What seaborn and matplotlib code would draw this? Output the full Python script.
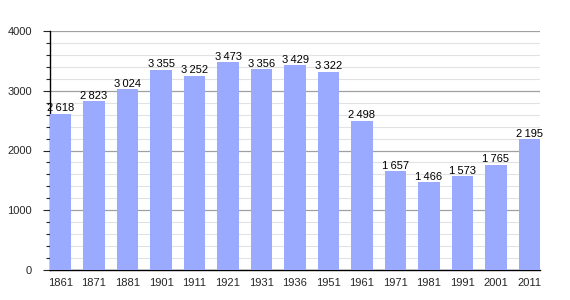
import matplotlib
matplotlib.use("Agg")
import matplotlib.pyplot as plt
import seaborn as sns
import pandas as pd
from matplotlib.ticker import MultipleLocator

years = ["1861", "1871", "1881", "1901", "1911", "1921", "1931", "1936",
         "1951", "1961", "1971", "1981", "1991", "2001", "2011"]
population = [2618, 2823, 3024, 3355, 3252, 3473, 3356, 3429,
              3322, 2498, 1657, 1466, 1573, 1765, 2195]

df = pd.DataFrame({"year": years, "pop": population})

sns.set_style("white")
plt.rcParams['font.family'] = ['Liberation Sans', 'DejaVu Sans']

fig = plt.figure(figsize=(5.7, 3.0), dpi=100)
ax = fig.add_axes([50/570, 30/300, 490/570, 239/300])

w = 0.627
sns.barplot(data=df, x="year", y="pop", color="#99aaff", saturation=1,
            width=w, ax=ax, zorder=3, linewidth=0, edgecolor="none")

ax.set_xlim(-w/2, len(years) - 1 + w/2)
ax.set_ylim(0, 4000)
ax.yaxis.set_major_locator(MultipleLocator(1000))
ax.yaxis.set_minor_locator(MultipleLocator(200))
ax.grid(which="major", axis="y", color="#a0a0a0", linewidth=0.9, zorder=0)
ax.grid(which="minor", axis="y", color="#e2e2e2", linewidth=0.8, zorder=0)
ax.set_axisbelow(True)

for s in ["top", "right"]:
    ax.spines[s].set_visible(False)
for s in ["left", "bottom"]:
    ax.spines[s].set_color("black")
    ax.spines[s].set_linewidth(1.0)

ax.tick_params(axis="y", which="major", left=True, length=5, width=0.8,
               labelsize=8, pad=8)
ax.tick_params(axis="y", which="minor", left=True, length=3, width=0.8)
ax.tick_params(axis="x", bottom=False, labelsize=8, pad=2)
ax.set_xlabel("")
ax.set_ylabel("")

for i, v in enumerate(population):
    lbl = f"{v:,}".replace(",", "\u2009")
    ax.text(i, v + 5, lbl, ha="center", va="bottom", fontsize=8,
            color="black", zorder=4)

fig.savefig("out.png", dpi=100)
